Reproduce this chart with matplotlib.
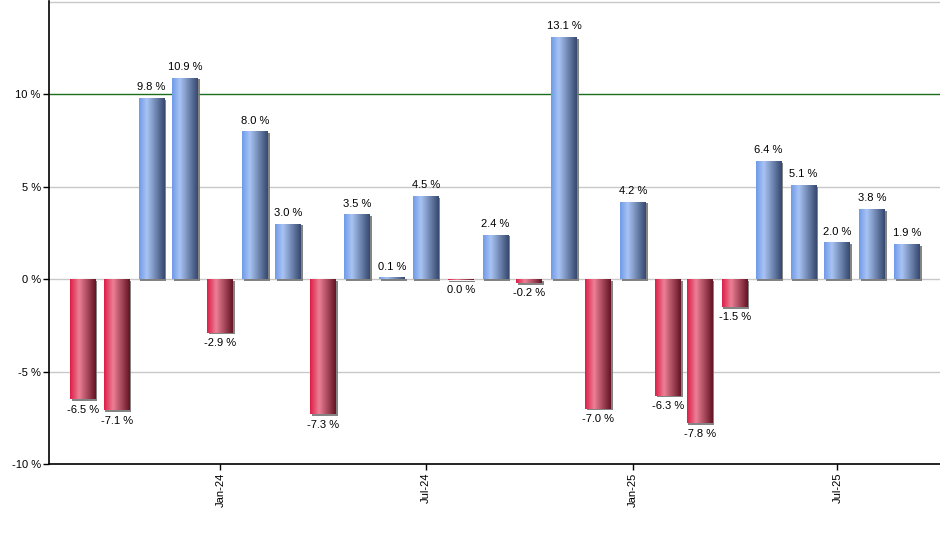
import matplotlib
matplotlib.use("Agg")
import matplotlib.pyplot as plt
import matplotlib.dates as mdates
import matplotlib.patheffects as pe
from matplotlib.colors import LinearSegmentedColormap
import numpy as np
import datetime as dt

plt.rcParams['font.family'] = ['Liberation Sans', 'DejaVu Sans']

# monthly returns, Sep 2023 .. Sep 2025
months = [dt.date(2023 + (8 + i) // 12, (8 + i) % 12 + 1, 1) for i in range(25)]
returns = [-6.5, -7.1, 9.8, 10.9, -2.9, 8.0, 3.0, -7.3, 3.5, 0.1, 4.5, -0.04, 2.4,
           -0.2, 13.1, -7.0, 4.2, -6.3, -7.8, -1.5, 6.4, 5.1, 2.0, 3.8, 1.9]
ytick_vals = [-10, -5, 0, 5, 10]
xtick_dates = [dt.date(2024, 1, 1), dt.date(2024, 7, 1), dt.date(2025, 1, 1), dt.date(2025, 7, 1)]
xtick_labels = ['Jan-24', 'Jul-24', 'Jan-25', 'Jul-25']

blue_cmap = LinearSegmentedColormap.from_list(
    'bl', [(0, '#709ae8'), (0.3, '#a9c4f4'), (1.0, '#36496f')])
red_cmap = LinearSegmentedColormap.from_list(
    'rd', [(0, '#dc1f48'), (0.35, '#ec7f95'), (1.0, '#641424')])

fig = plt.figure(figsize=(9.4, 5.5), dpi=100)
ax = fig.add_axes([49 / 940, 86 / 550, 891 / 940, 463 / 550])

bars = ax.bar(months, returns, width=23, color='#888888', zorder=3, linewidth=0)

grad = np.linspace(0, 1, 64).reshape(1, -1)
for patch, v in zip(bars.patches, returns):
    patch.set_path_effects([pe.SimplePatchShadow(offset=(1.2, -1.2), shadow_rgbFace='#777777', alpha=0.9),
                            pe.Normal()])
    x0, y0 = patch.get_x(), patch.get_y()
    w, h = patch.get_width(), patch.get_height()
    im = ax.imshow(grad, cmap=blue_cmap if v >= 0 else red_cmap, aspect='auto',
                   extent=[x0, x0 + w, min(y0, y0 + h), max(y0, y0 + h)],
                   zorder=4, interpolation='bilinear')
    im.set_clip_path(patch)
    txt = f"{round(v, 1) + 0.0:.1f} %"
    xc = x0 + w / 2
    if v >= 0:
        ax.annotate(txt, (xc, v), xytext=(0, 4), textcoords='offset points',
                    ha='center', va='bottom', fontsize=8, zorder=5)
    else:
        ax.annotate(txt, (xc, v), xytext=(0, -4), textcoords='offset points',
                    ha='center', va='top', fontsize=8, zorder=5)

ax.set_ylim(-10, 15.05)
ax.set_xlim(dt.date(2023, 8, 2), dt.date(2025, 9, 30))

# grid lines
for g in [-5, 0, 5, 15]:
    ax.axhline(g, color='#c8c8c8', linewidth=1, zorder=1)
ax.axhline(10, color='#1a6e1a', linewidth=1, zorder=1)

ax.set_yticks(ytick_vals)
ax.set_yticklabels([f"{t} %" for t in ytick_vals])
ax.set_xticks(xtick_dates)
ax.set_xticklabels(xtick_labels, rotation=90)
ax.tick_params(axis='both', labelsize=8, length=4, width=1, pad=2)

for s in ['top', 'right']:
    ax.spines[s].set_visible(False)
ax.spines['left'].set_linewidth(1.2)
ax.spines['bottom'].set_linewidth(1.2)

fig.savefig('out.png', dpi=100)
